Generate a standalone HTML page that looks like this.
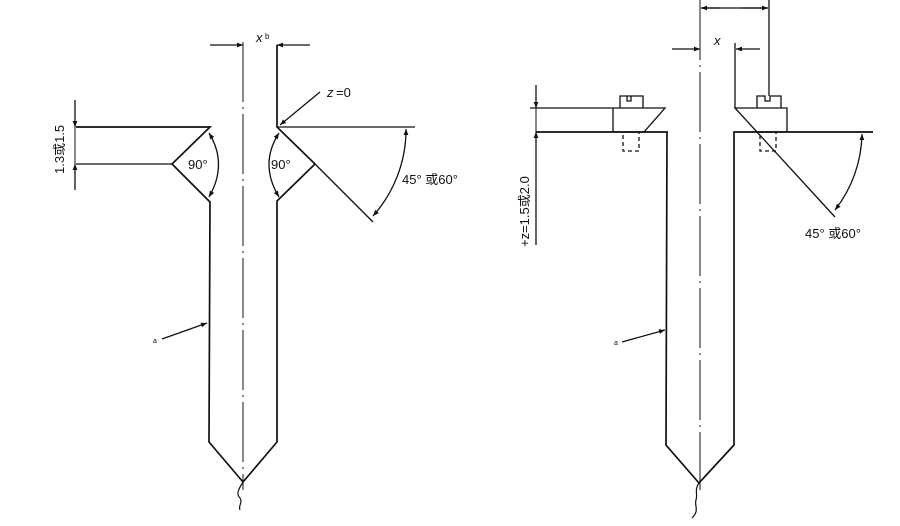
<!DOCTYPE html>
<html><head><meta charset="utf-8"><style>
html,body{margin:0;padding:0;background:#fff;}
svg{display:block;}
text{font-family:"Liberation Sans","Noto Sans CJK SC",sans-serif;fill:#111;}
</style></head><body>
<svg width="900" height="526" viewBox="0 0 900 526" xmlns="http://www.w3.org/2000/svg">
<defs>
<marker id="ar" viewBox="0 0 10 10" refX="10" refY="5" markerWidth="8" markerHeight="6" orient="auto-start-reverse" markerUnits="userSpaceOnUse"><path d="M0,1 L10,5 L0,9 z" fill="#111"/></marker>
</defs>
<g stroke="#111" fill="none" stroke-width="1.3">
<!-- LEFT FIGURE -->
<line x1="243" y1="42" x2="243" y2="490" stroke-width="1" stroke-dasharray="60,5,2,5"/>
<polyline points="76,127 210,127 172,164 210,202 209,442 243,482 277,442 277,201 315,164 277,127 277,45" stroke-width="1.7"/>
<line x1="76" y1="164" x2="172" y2="164"/>
<line x1="277" y1="127" x2="415" y2="127"/>
<line x1="315" y1="164" x2="373" y2="222"/>
<path d="M243,482 C238,490 236,494 240,498 C243,502 238,506 240,510" stroke-width="1.2"/>
<line x1="210" y1="45" x2="243" y2="45" marker-end="url(#ar)"/>
<line x1="310" y1="45" x2="277" y2="45" marker-end="url(#ar)"/>
<line x1="320" y1="92" x2="280" y2="125" marker-end="url(#ar)"/>
<path d="M209,133 Q228,164 209,197" marker-start="url(#ar)" marker-end="url(#ar)"/>
<path d="M279,133 Q259,164 279,197" marker-start="url(#ar)" marker-end="url(#ar)"/>
<path d="M406,129 A130,130 0 0 1 373,216" marker-start="url(#ar)" marker-end="url(#ar)"/>
<line x1="75" y1="100" x2="75" y2="127" marker-end="url(#ar)"/>
<line x1="75" y1="190" x2="75" y2="164" marker-end="url(#ar)"/>
<line x1="75" y1="127" x2="75" y2="164" stroke-width="1"/>
<line x1="162" y1="339" x2="207" y2="323" marker-end="url(#ar)"/>

<!-- RIGHT FIGURE -->
<line x1="700" y1="0" x2="700" y2="490" stroke-width="1" stroke-dasharray="60,5,2,5"/>
<polyline points="536,132 667,132 666,445 699,483 734,445 734,132 873,132" stroke-width="1.7"/>
<path d="M699,483 C694,490 698,494 696,500 C694,506 700,510 692,518" stroke-width="1.2"/>
<polygon points="613,108 665,108 644,132 613,132"/>
<path d="M620,108 V96 H627 V101 H631 V96 H643 V108 M627,96 H631"/>
<rect x="623" y="132" width="16" height="19" stroke-dasharray="4,3"/>
<polygon points="735,108 787,108 787,132 757,132"/>
<line x1="757" y1="132" x2="835" y2="217"/>
<path d="M757,108 V96 H765 V101 H770 V96 H781 V108"/>
<rect x="760" y="132" width="16" height="19" stroke-dasharray="4,3"/>
<line x1="735" y1="108" x2="735" y2="43"/>
<line x1="769" y1="0" x2="769" y2="96"/>
<line x1="672" y1="49" x2="700" y2="49" marker-end="url(#ar)"/>
<line x1="760" y1="49" x2="736" y2="49" marker-end="url(#ar)"/>
<line x1="720" y1="8" x2="701" y2="8" marker-end="url(#ar)"/>
<line x1="740" y1="8" x2="768" y2="8" marker-end="url(#ar)"/>
<line x1="701" y1="8" x2="768" y2="8"/>
<line x1="530" y1="108" x2="613" y2="108"/>
<line x1="536" y1="85" x2="536" y2="108" marker-end="url(#ar)"/>
<line x1="536" y1="245" x2="536" y2="132" marker-end="url(#ar)"/>
<line x1="536" y1="108" x2="536" y2="132" stroke-width="1"/>
<path d="M862,134 A127,127 0 0 1 835,210" marker-start="url(#ar)" marker-end="url(#ar)"/>
<line x1="622" y1="342" x2="665" y2="330" marker-end="url(#ar)"/>
</g>
<g font-size="13">
<text x="256" y="42" font-style="italic" font-family="Liberation Serif">x</text><text x="265" y="39" font-size="8">b</text>
<text x="327" y="97" font-style="italic" font-family="Liberation Serif">z</text><text x="336" y="97">=0</text>
<text x="188" y="169">90°</text>
<text x="271" y="169">90°</text>
<text x="402" y="184">45°  或60°</text>
<text transform="translate(64,174) rotate(-90)" font-family="Liberation Mono" font-size="13">1.3或1.5</text>
<text x="153" y="343" font-size="7">a</text>
<text x="714" y="45" font-style="italic" font-family="Liberation Serif">x</text>
<text x="805" y="238">45°  或60°</text>
<text transform="translate(529,247) rotate(-90)" font-family="Liberation Mono" font-size="13">+z=1.5或2.0</text>
<text x="614" y="345" font-size="7">a</text>
</g>
</svg>
</body></html>
